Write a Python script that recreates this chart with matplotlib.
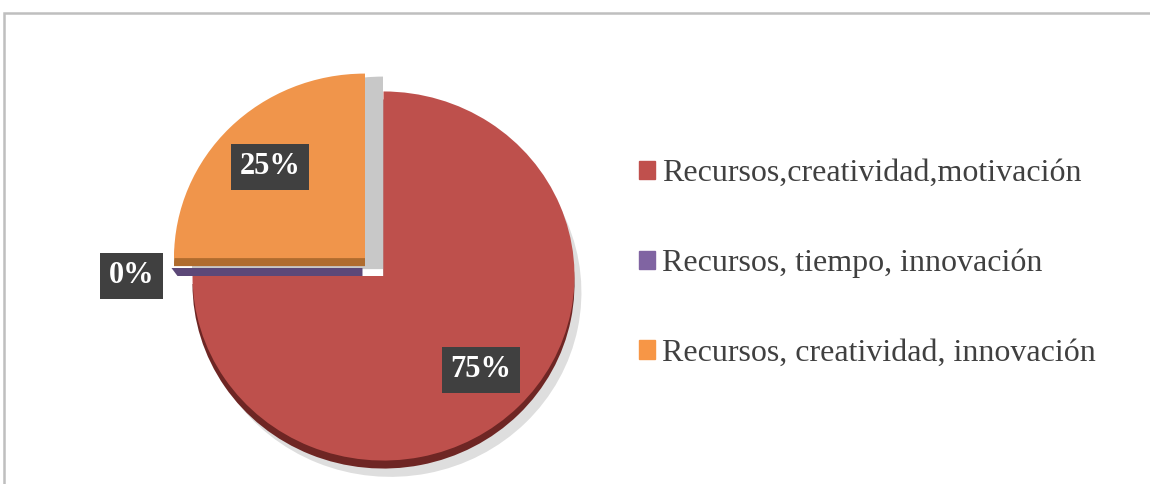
import matplotlib
matplotlib.use("Agg")
import matplotlib.pyplot as plt
import matplotlib.patches as mpatches
import matplotlib.patheffects as pe
import numpy as np

plt.rcParams['font.family'] = ['Liberation Serif', 'DejaVu Serif']

# data
categories = ['Recursos,creatividad,motivación',
              'Recursos, tiempo, innovación',
              'Recursos, creatividad, innovación']
values = [75, 0, 25]
colors = ['#C0504D', '#8064A2', '#F79646']
top_colors = ['#BE504C', '#8064A2', '#F0954B']
side_colors = ['#6E2624', '#5C4878', '#B06C2E']
explode = [0.0, 0.11, 0.137]     # fraction of radius
label_dist = [0.72, 1.21, 0.70]

W, H = 1150, 484
sy = 1.035          # slight vertical squash -> tilted look
fig = plt.figure(figsize=(W / 100, H / 100), dpi=100)
ax = fig.add_axes([0, 0, 1, 1])

r = 191
cx, cy = 383.5, (H - 276) * sy
depth = 8 * sy
expl = [e * r for e in explode]

# shadow of the pulled out slice (grey strip between the slices)
for dy in (3 * sy, 3 * sy + depth):
    sh, _ = ax.pie(values, colors=['none', 'none', '#C8C8C8'], center=(cx + 18, cy - dy),
                   radius=r, explode=expl, startangle=90, counterclock=False)
    for w in sh:
        w.set_zorder(1)

# side (3d depth)
side, _ = ax.pie(values, colors=side_colors, center=(cx, cy - depth), radius=r,
                 explode=expl, startangle=90, counterclock=False)
for w in side:
    w.set_zorder(2)
side[0].set_path_effects([pe.SimplePatchShadow(offset=(5, -6), shadow_rgbFace='#000000', alpha=0.13),
                          pe.Normal()])

# top face
wedges, _ = ax.pie(values, colors=top_colors, center=(cx, cy), radius=r,
                   explode=expl, startangle=90, counterclock=False)
for w in wedges:
    w.set_zorder(3)

# zero slice: only its side shows, as a thin band along its radius
pw = wedges[1]
ang = np.deg2rad(pw.theta1)
px, py = pw.center
ex, ey = px + pw.r * np.cos(ang), py + pw.r * np.sin(ang)
band = mpatches.Polygon([(px, py + depth), (ex, ey + depth), (ex + 6, ey), (px, py)],
                        closed=True, fc=side_colors[1], ec='none', zorder=2.5)
ax.add_patch(band)

# labels
for w, v, d in zip(wedges, values, label_dist):
    mid = np.deg2rad((w.theta1 + w.theta2) / 2)
    x = w.center[0] + d * w.r * np.cos(mid)
    y = w.center[1] + d * w.r * np.sin(mid)
    ax.text(x, y, f'{v}%', ha='center', va='center', fontsize=22, fontweight='bold',
            color='white', zorder=5,
            bbox=dict(boxstyle='square,pad=0.28', fc='#404040', ec='none'))

ax.set_xlim(0, W)
ax.set_ylim(0, H * sy)
ax.set_aspect('auto')
ax.axis('off')

# legend
handles = [mpatches.Patch(color=c) for c in colors]
fig.legend(handles, categories, loc='upper left', bbox_to_anchor=(639 / W, (H - 159) / H),
           frameon=False, fontsize=23, labelcolor='#404040', handlelength=0.5,
           handleheight=0.5, handletextpad=0.22, labelspacing=1.9, borderpad=0,
           borderaxespad=0)

# outer border
fig.patches.append(mpatches.Rectangle((4 / W, -0.1), 1.2, (H - 13) / H + 0.1,
                                      transform=fig.transFigure, fill=False,
                                      ec='#BFBFBF', lw=1.8))

fig.savefig('out.png', dpi=100)
